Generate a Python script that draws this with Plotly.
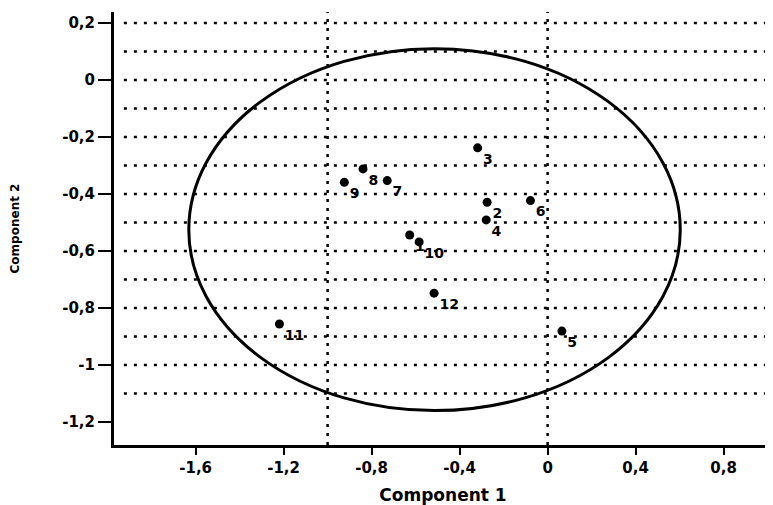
import plotly.graph_objects as go

# ---- data ----
labels = ["1", "2", "3", "4", "5", "6", "7", "8", "9", "10", "11", "12"]
comp1 = [-0.627, -0.275, -0.318, -0.279, 0.065, -0.078, -0.729, -0.839, -0.924, -0.584, -1.219, -0.516]
comp2 = [-0.544, -0.429, -0.238, -0.491, -0.881, -0.423, -0.353, -0.312, -0.359, -0.568, -0.856, -0.748]

x_tickvals = [-1.6, -1.2, -0.8, -0.4, 0, 0.4, 0.8]
x_ticktext = ["-1,6", "-1,2", "-0,8", "-0,4", "0", "0,4", "0,8"]
y_tickvals = [0.2, 0, -0.2, -0.4, -0.6, -0.8, -1.0, -1.2]
y_ticktext = ["0,2", "0", "-0,2", "-0,4", "-0,6", "-0,8", "-1", "-1,2"]

h_grid = [0.2, 0.1, 0.0, -0.1, -0.2, -0.3, -0.4, -0.5, -0.6, -0.7, -0.8, -0.9, -1.0, -1.1]
v_grid = [-1.0, 0.0, 1.0]

# ellipse (centre and radii in data units)
ell_cx, ell_cy = -0.514, -0.525
ell_rx, ell_ry = 1.117, 0.635

FONT = "DejaVu Sans"

fig = go.Figure()

# labels first (with invisible spacer markers) so that the dots sit on top of them
fig.add_trace(go.Scatter(
    x=comp1, y=comp2, mode="markers+text", text=labels,
    textposition="bottom right",
    marker=dict(size=7, color="rgba(0,0,0,0)"),
    textfont=dict(family=FONT, size=14, color="black", weight="bold"),
    hoverinfo="skip", showlegend=False,
))
fig.add_trace(go.Scatter(
    x=comp1, y=comp2, mode="markers",
    marker=dict(size=9, color="black"),
    showlegend=False,
))

shapes = []
for v in h_grid:
    shapes.append(dict(type="line", xref="paper", yref="y", x0=0.015, x1=1, y0=v, y1=v,
                       line=dict(color="black", width=2.5, dash="3px,7px"), layer="below"))
for v in v_grid:
    shapes.append(dict(type="line", xref="x", yref="paper", x0=v, x1=v, y0=0, y1=1,
                       line=dict(color="black", width=2.5, dash="3px,6px"), layer="below"))
shapes.append(dict(type="circle", xref="x", yref="y",
                   x0=ell_cx - ell_rx, x1=ell_cx + ell_rx,
                   y0=ell_cy - ell_ry, y1=ell_cy + ell_ry,
                   line=dict(color="black", width=3), layer="below"))

fig.update_layout(
    width=765, height=497,
    margin=dict(l=106, r=1, t=4, b=60, autoexpand=False),
    paper_bgcolor="white", plot_bgcolor="white",
    shapes=shapes,
    xaxis=dict(
        range=[-1.971, 1.020], showgrid=False, zeroline=False, automargin=False,
        showline=True, linecolor="black", linewidth=3,
        ticks="outside", ticklen=7, tickwidth=2, tickcolor="black",
        tickvals=x_tickvals, ticktext=x_ticktext,
        tickfont=dict(family=FONT, size=15, color="black", weight="bold"),
        title=dict(text="Component 1", standoff=14,
                   font=dict(family=FONT, size=17, color="black", weight="bold")),
    ),
    yaxis=dict(
        range=[-1.2807, 0.2386], showgrid=False, zeroline=False, automargin=False,
        showline=True, linecolor="black", linewidth=3,
        ticks="outside", ticklen=13, tickwidth=2, tickcolor="black",
        tickvals=y_tickvals, ticktext=y_ticktext,
        tickfont=dict(family=FONT, size=15, color="black", weight="bold"),
        title=dict(text="Component 2", standoff=52,
                   font=dict(family=FONT, size=12, color="black", weight="bold")),
    ),
)

fig.write_html("out.html")
